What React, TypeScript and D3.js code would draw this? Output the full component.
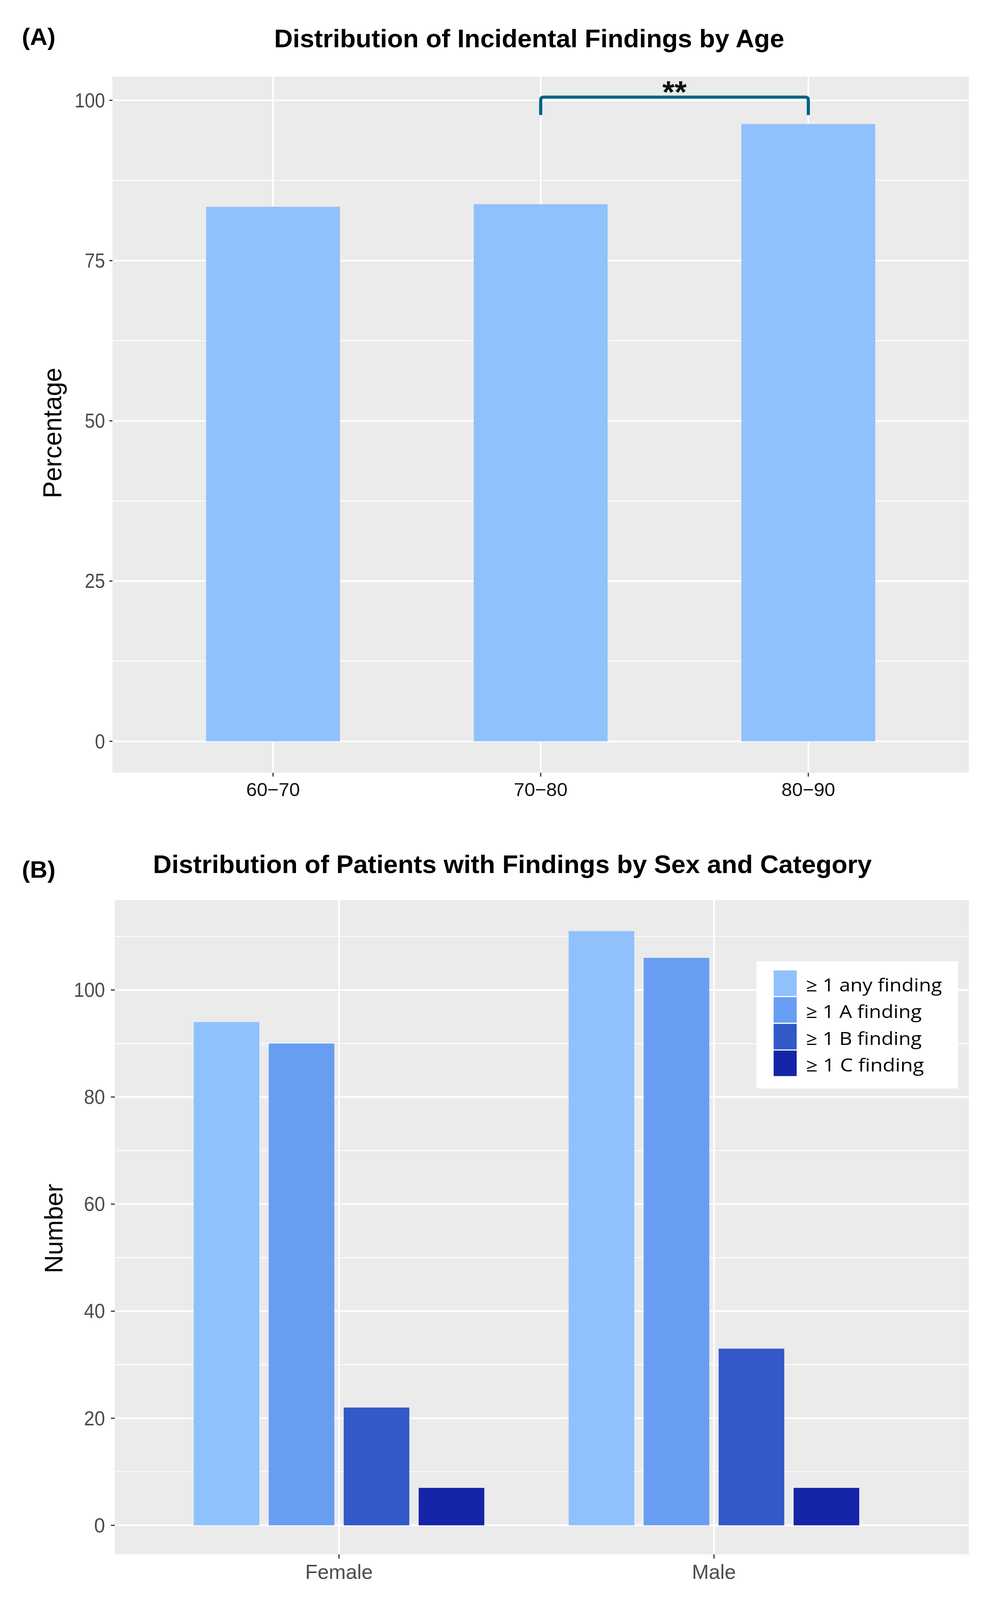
import React from "react";
import * as d3 from "d3";

// ---------- Data ----------
const ageGroups = ["60\u221270", "70\u221280", "80\u221290"];
const agePercent = [83.4, 83.8, 96.3];
const ageTicks = [0, 25, 50, 75, 100];
const ageMinorTicks = [12.5, 37.5, 62.5, 87.5];

const sigGroups = ["70\u221280", "80\u221290"];
const sigLabel = "**";
const sigY = 100.5;
const sigTipY = 97.7;

const sexes = ["Female", "Male"];
const categories = ["\u2265 1 any finding", "\u2265 1 A finding", "\u2265 1 B finding", "\u2265 1 C finding"];
const femaleCounts = [94, 90, 22, 7];
const maleCounts = [111, 106, 33, 7];
const countTicks = [0, 20, 40, 60, 80, 100];
const countMinorTicks = [10, 30, 50, 70, 90, 110];
const catColors = ["#8fc1fc", "#679ef2", "#3359c8", "#1425a8"];

const titleA = "Distribution of Incidental Findings by Age";
const titleB = "Distribution of Patients with Findings by Sex and Category";

// ---------- Layout ----------
const W = 2535;
const H = 4135;
const FONT = "'Liberation Sans', Arial, Helvetica, sans-serif";
const PANEL_BG = "#ebebeb";
const AXIS_TEXT = "#4d4d4d";
const DIGIT_W = 26;

export default function App() {
  // Panel A scales
  const xA = d3.scaleLinear().domain([-0.6, 2.6]).range([288, 2481]);
  const yA = d3.scaleLinear().domain([-4.9, 103.7]).range([1997, 198]);
  const barWA = 0.5;

  // Panel B scales
  const xB = d3.scaleLinear().domain([-0.598, 1.68]).range([294, 2481]);
  const yB = d3.scaleLinear().domain([-5.42, 116.8]).range([4017, 2326]);
  const dodge = 0.2;
  const barWB = 0.175;
  const seriesB = [femaleCounts, maleCounts];

  const [aL, aR] = xA.range();
  const [aB, aT] = yA.range();
  const [bL, bR] = xB.range();
  const [bB, bT] = yB.range();

  const i1 = ageGroups.indexOf(sigGroups[0]);
  const i2 = ageGroups.indexOf(sigGroups[1]);
  const bx1 = xA(i1);
  const bx2 = xA(i2);
  const by = yA(sigY);
  const btip = yA(sigTipY);
  const r = 8;
  const bracketPath = `M${bx1},${btip} L${bx1},${by + r} Q${bx1},${by} ${bx1 + r},${by} L${bx2 - r},${by} Q${bx2},${by} ${bx2},${by + r} L${bx2},${btip}`;

  const legendX = 1937;
  const legendY = 2484;
  const legendTextLen = [348, 296, 296, 302];

  return (
    <svg
      viewBox={`0 0 ${W} ${H}`}
      preserveAspectRatio="none"
      style={{ position: "fixed", left: 0, top: 0, width: "100vw", height: "100vh", background: "#ffffff", display: "block" }}
      fontFamily={FONT}
    >
      <rect x={0} y={0} width={W} height={H} fill="#ffffff" />

      {/* ================= Panel A ================= */}
      <text x={56} y={116} fontSize={62} fontWeight="bold" fill="#000">(A)</text>
      <text x={1355} y={122} fontSize={66} fontWeight="bold" fill="#000" textAnchor="middle">{titleA}</text>

      <rect x={aL} y={aT} width={aR - aL} height={aB - aT} fill={PANEL_BG} />
      {ageMinorTicks.map((t) => (
        <line key={"am" + t} x1={aL} x2={aR} y1={yA(t)} y2={yA(t)} stroke="#fff" strokeWidth={2.2} />
      ))}
      {ageTicks.map((t) => (
        <line key={"aM" + t} x1={aL} x2={aR} y1={yA(t)} y2={yA(t)} stroke="#fff" strokeWidth={4.3} />
      ))}
      {ageGroups.map((g, i) => (
        <line key={"av" + g} x1={xA(i)} x2={xA(i)} y1={aT} y2={aB} stroke="#fff" strokeWidth={4.3} />
      ))}
      {agePercent.map((v, i) => (
        <rect
          key={"ab" + i}
          x={xA(i - barWA / 2)}
          y={yA(v)}
          width={xA(i + barWA / 2) - xA(i - barWA / 2)}
          height={yA(0) - yA(v)}
          fill={catColors[0]}
        />
      ))}
      {/* significance bracket */}
      <path d={bracketPath} fill="none" stroke="#066187" strokeWidth={8} />
      <text x={(bx1 + bx2) / 2} y={266} fontSize={80} fontWeight="bold" fill="#111" textAnchor="middle">
        {sigLabel}
      </text>

      {/* axes A */}
      {ageTicks.map((t) => (
        <g key={"aty" + t}>
          <line x1={aL - 8} x2={aL} y1={yA(t)} y2={yA(t)} stroke="#333" strokeWidth={3} />
          <text
            x={269}
            y={yA(t) + 18}
            fontSize={52}
            fill={AXIS_TEXT}
            textAnchor="end"
            textLength={String(t).length * DIGIT_W}
            lengthAdjust="spacingAndGlyphs"
          >
            {t}
          </text>
        </g>
      ))}
      {ageGroups.map((g, i) => (
        <g key={"atx" + g}>
          <line x1={xA(i)} x2={xA(i)} y1={aB} y2={aB + 10} stroke="#333" strokeWidth={3} />
          <text x={xA(i)} y={2057} fontSize={49} fill="#111" textAnchor="middle">{g}</text>
        </g>
      ))}
      <text transform={`translate(157, 1119) rotate(-90)`} fontSize={66} fill="#000" textAnchor="middle">Percentage</text>

      {/* ================= Panel B ================= */}
      <text x={56} y={2268} fontSize={62} fontWeight="bold" fill="#000">(B)</text>
      <text x={1312} y={2256} fontSize={66} fontWeight="bold" fill="#000" textAnchor="middle">{titleB}</text>

      <rect x={bL} y={bT} width={bR - bL} height={bB - bT} fill={PANEL_BG} />
      {countMinorTicks.map((t) => (
        <line key={"bm" + t} x1={bL} x2={bR} y1={yB(t)} y2={yB(t)} stroke="#fff" strokeWidth={2.2} />
      ))}
      {countTicks.map((t) => (
        <line key={"bM" + t} x1={bL} x2={bR} y1={yB(t)} y2={yB(t)} stroke="#fff" strokeWidth={4.3} />
      ))}
      {sexes.map((s, i) => (
        <line key={"bv" + s} x1={xB(i)} x2={xB(i)} y1={bT} y2={bB} stroke="#fff" strokeWidth={4.3} />
      ))}
      {seriesB.map((vals, i) =>
        vals.map((v, j) => {
          const c = i + (j - (categories.length - 1) / 2) * dodge;
          return (
            <rect
              key={"bb" + i + "-" + j}
              x={xB(c - barWB / 2)}
              y={yB(v)}
              width={xB(c + barWB / 2) - xB(c - barWB / 2)}
              height={yB(0) - yB(v)}
              fill={catColors[j]}
            />
          );
        })
      )}

      {/* axes B */}
      {countTicks.map((t) => (
        <g key={"bty" + t}>
          <line x1={bL - 10} x2={bL} y1={yB(t)} y2={yB(t)} stroke="#333" strokeWidth={3} />
          <text
            x={269}
            y={yB(t) + 18}
            fontSize={52}
            fill={AXIS_TEXT}
            textAnchor="end"
            textLength={String(t).length * DIGIT_W + 2}
            lengthAdjust="spacingAndGlyphs"
          >
            {t}
          </text>
        </g>
      ))}
      {sexes.map((s, i) => (
        <g key={"btx" + s}>
          <line x1={xB(i)} x2={xB(i)} y1={bB} y2={bB + 11} stroke="#333" strokeWidth={3} />
          <text x={xB(i)} y={4080} fontSize={52} fill={AXIS_TEXT} textAnchor="middle">{s}</text>
        </g>
      ))}
      <text transform={`translate(160, 3175) rotate(-90)`} fontSize={65} fill="#000" textAnchor="middle">Number</text>

      {/* legend */}
      <rect x={legendX} y={legendY} width={2453 - legendX} height={2813 - legendY} fill="#ffffff" />
      {categories.map((c, j) => {
        const ky = 2508 + j * 69;
        return (
          <g key={"lg" + j}>
            <rect x={1981} y={ky} width={59} height={66} fill={catColors[j]} />
            <text
              x={2064}
              y={ky + 54}
              fontSize={47}
              fontFamily="'Open Sans', 'Noto Sans', sans-serif"
              fill="#000"
              textLength={legendTextLen[j]}
              lengthAdjust="spacingAndGlyphs"
            >
              {c}
            </text>
          </g>
        );
      })}
    </svg>
  );
}
